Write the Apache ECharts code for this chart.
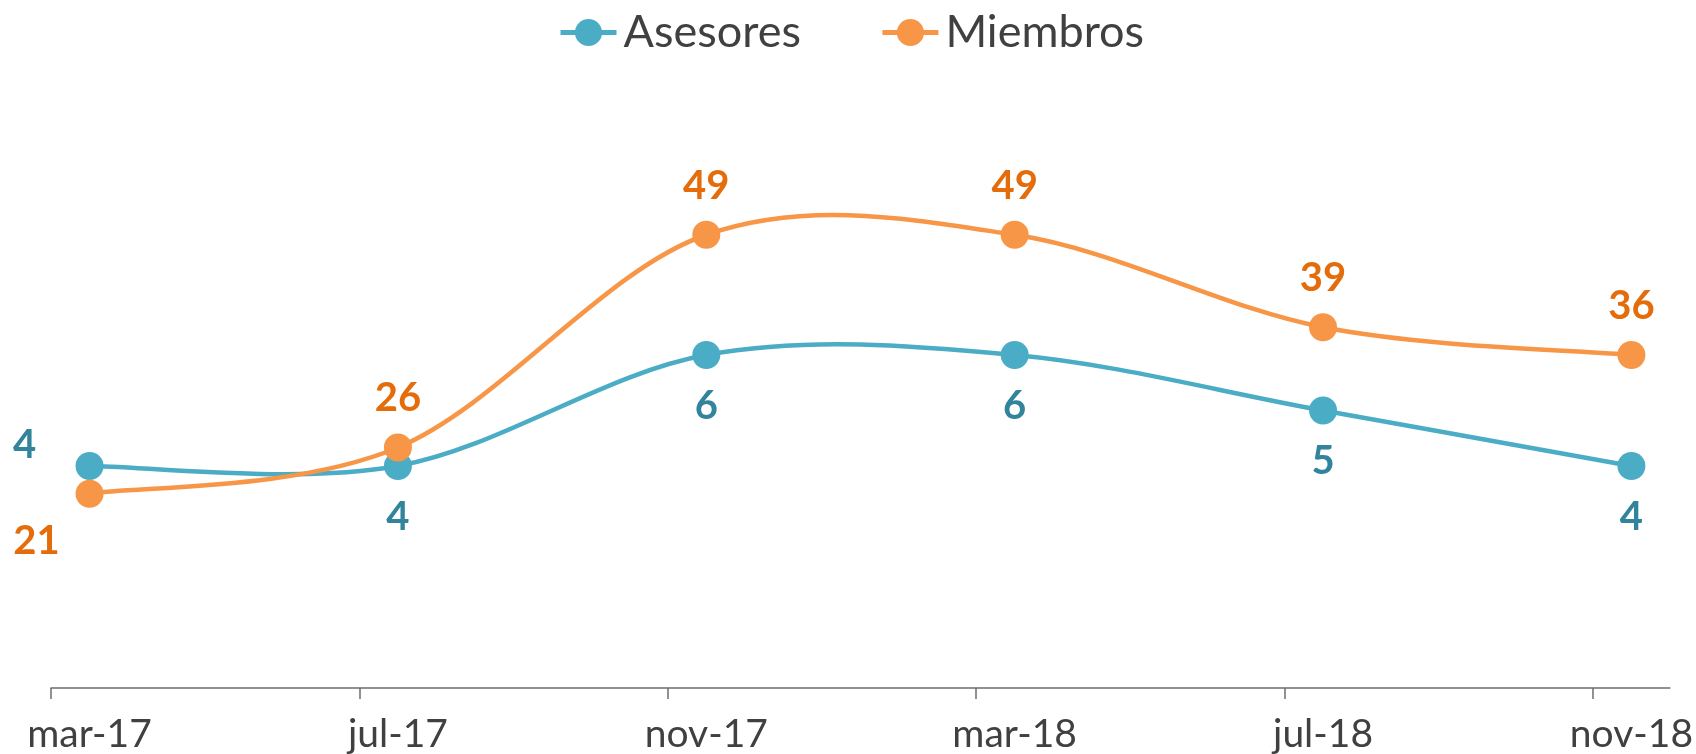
<!DOCTYPE html>
<html>
<head>
<meta charset="utf-8">
<script src="https://cdn.jsdelivr.net/npm/echarts@6/dist/echarts.min.js"></script>
<style>
  html, body { margin: 0; padding: 0; background: #fff; }
</style>
</head>
<body>
<div id="myChart" style="width:1696px;height:754px"></div>
<script>
// months since mar-17 for each reading, and their labels
var monthIndex = [0, 4, 8, 12, 16, 20]
var monthLabels = ['mar-17', 'jul-17', 'nov-17', 'mar-18', 'jul-18', 'nov-18']
var tickMonths = [-0.5, 3.5, 7.5, 11.5, 15.5, 19.5]

var asesores = [4, 4, 6, 6, 5, 4]
var miembros = [21, 26, 49, 49, 39, 36]

var blue = '#4BACC6'
var blueText = '#31849B'
var orange = '#F79646'
var orangeText = '#E46C0A'
var font = 'Lato, "DejaVu Sans", sans-serif'

function pairs (values) {
  return values.map(function (v, i) { return [monthIndex[i], v] })
}

// excel-like smoothed line (catmull-rom), drawn once from the axis coords
function curve (values, color) {
  return function (params, api) {
    if (params.dataIndex !== 0) return null
    var pts = values.map(function (v, i) { return api.coord([monthIndex[i], v]) })
    var n = pts.length
    var children = []
    for (var i = 0; i < n - 1; i++) {
      var p0 = pts[Math.max(i - 1, 0)]
      var p1 = pts[i]
      var p2 = pts[i + 1]
      var p3 = pts[Math.min(i + 2, n - 1)]
      children.push({
        type: 'bezierCurve',
        shape: {
          x1: p1[0], y1: p1[1],
          cpx1: p1[0] + (p2[0] - p0[0]) / 6, cpy1: p1[1] + (p2[1] - p0[1]) / 6,
          cpx2: p2[0] - (p3[0] - p1[0]) / 6, cpy2: p2[1] - (p3[1] - p1[1]) / 6,
          x2: p2[0], y2: p2[1]
        },
        style: { stroke: color, lineWidth: 4.5, fill: null, lineCap: 'round' }
      })
    }
    return { type: 'group', children: children }
  }
}

var asesoresData = pairs(asesores)
// first point label sits to the left of the marker
asesoresData[0] = { value: asesoresData[0], label: { position: 'inside', offset: [-65, -21] } }

var miembrosData = pairs(miembros)
miembrosData[0] = { value: miembrosData[0], label: { position: 'inside', offset: [-53, 47] } }

var myChart = echarts.init(document.getElementById('myChart'))

myChart.setOption({
  animation: false,
  textStyle: { fontFamily: font },
  legend: {
    left: 553,
    top: 5,
    itemWidth: 56,
    itemHeight: 34,
    itemGap: 79,
    lineStyle: { width: 5 },
    textStyle: { fontSize: 45, color: '#404040', fontFamily: font, padding: [0, 0, 0, 2] },
    data: ['Asesores', 'Miembros']
  },
  grid: { left: 51, right: 26, top: 133, bottom: 66 },
  xAxis: {
    type: 'value',
    min: -0.5,
    max: 20.5,
    splitLine: { show: false },
    axisLine: { show: true, lineStyle: { color: '#6e6e6e', width: 1.5 } },
    axisTick: { show: true, length: 11, customValues: tickMonths, lineStyle: { color: '#6e6e6e', width: 1.5 } },
    axisLabel: {
      customValues: monthIndex,
      margin: 27,
      fontSize: 39,
      color: '#404040',
      fontFamily: font,
      formatter: function (v) {
        var i = monthIndex.indexOf(v)
        return i >= 0 ? monthLabels[i] : ''
      }
    }
  },
  yAxis: [
    { type: 'value', min: 0, max: 10, show: false, splitLine: { show: false } },
    { type: 'value', min: 0, max: 60, show: false, splitLine: { show: false } }
  ],
  series: [{
    name: 'curvaAsesores',
    type: 'custom',
    yAxisIndex: 0,
    z: 2,
    silent: true,
    renderItem: curve(asesores, blue),
    data: pairs(asesores)
  }, {
    name: 'Asesores',
    type: 'line',
    yAxisIndex: 0,
    z: 3,
    symbol: 'circle',
    symbolSize: 28,
    lineStyle: { color: blue, width: 0 },
    itemStyle: { color: blue },
    label: {
      show: true,
      position: 'bottom',
      distance: 17,
      fontSize: 40,
      fontWeight: 'bold',
      color: blueText,
      fontFamily: font,
      formatter: function (p) { return p.value[1] }
    },
    data: asesoresData
  }, {
    name: 'curvaMiembros',
    type: 'custom',
    yAxisIndex: 1,
    z: 4,
    silent: true,
    renderItem: curve(miembros, orange),
    data: pairs(miembros)
  }, {
    name: 'Miembros',
    type: 'line',
    yAxisIndex: 1,
    z: 5,
    symbol: 'circle',
    symbolSize: 28,
    lineStyle: { color: orange, width: 0 },
    itemStyle: { color: orange },
    label: {
      show: true,
      position: 'top',
      distance: 15,
      fontSize: 40,
      fontWeight: 'bold',
      color: orangeText,
      fontFamily: font,
      formatter: function (p) { return p.value[1] }
    },
    data: miembrosData
  }]
})
</script>
</body>
</html>
